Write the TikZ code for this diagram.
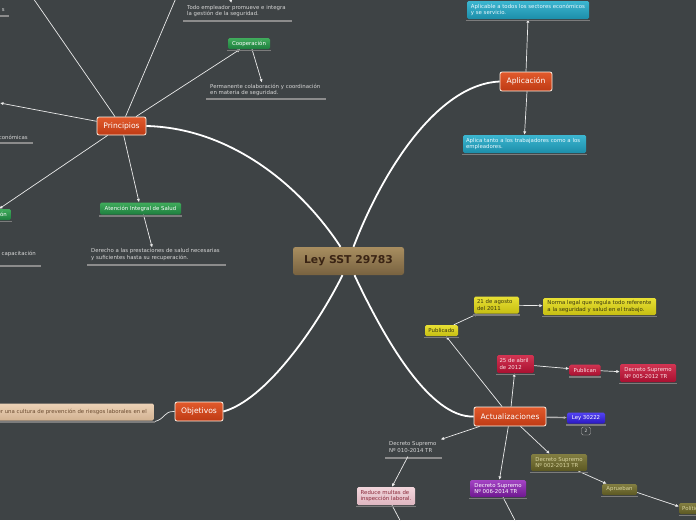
\documentclass[tikz,border=0pt]{standalone}
\usepackage{fontspec}
\setmainfont{DejaVu Sans}
\usetikzlibrary{arrows.meta,calc}
\definecolor{bg}{HTML}{3E4345}
\definecolor{notetext}{HTML}{D6D6D6}
\definecolor{ulinec}{HTML}{8C8C8C}
\definecolor{shadowc}{HTML}{7C7C7C}
\definecolor{orT}{HTML}{E25A2C}\definecolor{orB}{HTML}{BE3A14}
\definecolor{ceT}{HTML}{A88E60}\definecolor{ceB}{HTML}{786240}\definecolor{ceX}{HTML}{3A2414}
\definecolor{grT}{HTML}{40AC5C}\definecolor{grB}{HTML}{1E7E3E}
\definecolor{cyT}{HTML}{3CB6D0}\definecolor{cyB}{HTML}{1C8EAA}
\definecolor{yeT}{HTML}{E8E034}\definecolor{yeB}{HTML}{C6BE12}\definecolor{yeX}{HTML}{3A3810}
\definecolor{reT}{HTML}{D23452}\definecolor{reB}{HTML}{A81030}\definecolor{reX}{HTML}{F8E0E4}
\definecolor{blT}{HTML}{5444F2}\definecolor{blB}{HTML}{2A18C2}
\definecolor{puT}{HTML}{A444C4}\definecolor{puB}{HTML}{6E1890}
\definecolor{olT}{HTML}{827E42}\definecolor{olB}{HTML}{5C5822}\definecolor{olX}{HTML}{D8D4A0}
\definecolor{piT}{HTML}{F2D6DC}\definecolor{piB}{HTML}{DEB6C0}\definecolor{piX}{HTML}{8A2A3A}
\definecolor{beT}{HTML}{ECD2B6}\definecolor{beB}{HTML}{D2B292}\definecolor{beX}{HTML}{6A4A30}
\begin{document}
\begin{tikzpicture}[x=1pt,y=-1pt,
  smallbox/.style={rounded corners=1.5pt, inner sep=2pt, align=left,
    font=\fontsize{5.4}{6.5}\selectfont},
  topic/.style={rounded corners=2pt, draw=white!90!orange, line width=0.8pt,
    top color=orT, bottom color=orB, text=white, inner sep=2pt,
    font=\fontsize{7.6}{9}\selectfont},
  greenbox/.style={smallbox, top color=grT, bottom color=grB, text=white},
  cyanbox/.style={smallbox, top color=cyT, bottom color=cyB, text=white!92!cyan},
  yellowbox/.style={smallbox, top color=yeT, bottom color=yeB, text=yeX},
  redbox/.style={smallbox, top color=reT, bottom color=reB, text=reX},
  bluebox/.style={smallbox, top color=blT, bottom color=blB, text=white},
  purplebox/.style={smallbox, top color=puT, bottom color=puB, text=white},
  olivebox/.style={smallbox, top color=olT, bottom color=olB, text=olX},
  pinkbox/.style={smallbox, top color=piT, bottom color=piB, text=piX},
  beigebox/.style={smallbox, top color=beT, bottom color=beB, text=beX},
  note/.style={inner sep=0pt, align=left, text=notetext,
    font=\fontsize{5.4}{6.6}\selectfont},
  uline/.style={draw=ulinec, line width=1.1pt},
  shadowline/.style={draw=shadowc, line width=1.2pt},
  thick link/.style={draw=white, line width=1.8pt},
  link/.style={draw=white!92!black, line width=0.7pt},
  arrowlink/.style={link, -{Latex[length=3.4pt,width=3.2pt]}},
]
\fill[bg] (0,0) rectangle (696,520);
\useasboundingbox (0,0) rectangle (696,520);

% ---------- main topics ----------
\node[rounded corners=2.5pt, top color=ceT, bottom color=ceB, text=ceX,
  minimum width=111, minimum height=28, inner sep=0pt,
  font=\bfseries\fontsize{10.8}{12}\selectfont] (center) at (348.5,261) {Ley SST 29783};
\node[topic, minimum width=49, minimum height=18] (principios) at (121.5,126) {Principios};
\node[topic, minimum width=52, minimum height=19] (aplicacion) at (526,81.5) {Aplicación};
\node[topic, minimum width=48, minimum height=19] (objetivos) at (199,411.5) {Objetivos};
\node[topic, minimum width=72, minimum height=19] (actualiz) at (510,416.5) {Actualizaciones};

% ---------- Principios branch ----------
\node[greenbox, minimum width=42, minimum height=11, inner sep=1pt, align=center] (cooperacion) at (249,43.5) {Cooperación};
\node[greenbox, minimum width=81, minimum height=12, inner sep=1pt, align=center] (atencion) at (140.5,208.5) {Atención Integral de Salud};
\node[greenbox, minimum height=11, inner sep=1pt, inner xsep=4pt, anchor=east] (informacion) at (11,214.5) {Información};
\node[note, anchor=north west] (todo) at (187,5) {Todo empleador promueve e integra\\la gestión de la seguridad.};
\node[note, anchor=north west] (permanente) at (210,83.5) {Permanente colaboración y coordinación\\en materia de seguridad.};
\node[note, anchor=north west] (derecho) at (91,248.5) {Derecho a las prestaciones de salud necesarias\\y suficientes hasta su recuperación.};
\node[note, anchor=east] (economicas) at (28,137) {económicas};
\node[note, anchor=east] (sitem) at (5,10) {s};
\node[note, anchor=east] (capacitacion) at (36,254) {recibir capacitación};
\coordinate (offtl) at (33,-2);
\coordinate (offtop) at (176,-2);
\coordinate (offleft) at (0,103);
\coordinate (offtodo) at (228,-12);

\draw[uline] (183,21) -- (292,21);
\draw[uline] (206,99) -- (326,99);
\draw[uline] (87,265) -- (226,265);
\draw[uline] (-2,143) -- (33,143);
\draw[uline] (-2,16) -- (9,16);
\draw[uline] (-2,266) -- (41,266);

\draw[link] (principios) -- (offtl);
\draw[link] (principios) -- (offtop);
\draw[arrowlink] (principios) -- (cooperacion);
\draw[arrowlink] (principios) -- (offleft);
\draw[arrowlink] (principios) -- (informacion);
\draw[arrowlink] (principios) -- (atencion);
\draw[arrowlink, shorten >=1pt] ([xshift=3pt]cooperacion.south) -- ([xshift=-3pt]permanente.north);
\draw[arrowlink, shorten >=1pt] ([xshift=3pt]atencion.south) -- ([xshift=-3pt]derecho.north);
\draw[arrowlink] (offtodo) -- ([xshift=-5pt,yshift=2pt]todo.north);

% ---------- Aplicacion branch ----------
\node[cyanbox, minimum width=122, minimum height=18] (aplicable) at (528,10) {Aplicable a todos los sectores económicos\\y se servicio.};
\node[cyanbox, minimum width=123, minimum height=18, text width=117] (aplica) at (524.5,144) {Aplica tanto a los trabajadores como a los\\empleadores.};
\draw[arrowlink] (aplicacion.north) -- (aplicable.south);
\draw[arrowlink] ([xshift=1pt]aplicacion.south) -- (aplica.north);

% ---------- Objetivos branch ----------
\node[beigebox, minimum height=17, anchor=east, inner xsep=7pt] (cultura) at (154,412) {Promover una cultura de prevención de riesgos laborales en el};
\draw[link] (objetivos.west) .. controls (163,411) and (166,419) .. ([yshift=-1pt]cultura.south east);

% ---------- Actualizaciones branch ----------
\node[yellowbox, minimum width=33, minimum height=11, inner sep=1pt, align=center] (publicado) at (441.5,330.5) {Publicado};
\node[yellowbox, minimum width=45, minimum height=17, text width=39] (agosto) at (496.5,305) {21 de agosto\\del 2011};
\node[yellowbox, minimum width=113, minimum height=17] (norma) at (599.5,306.5) {Norma legal que regula todo referente\\a la seguridad y salud en el trabajo.};
\node[redbox, minimum width=37, minimum height=18, text width=32] (abril) at (515.5,364) {25 de abril\\de 2012};
\node[redbox, minimum width=31, minimum height=11, inner sep=1pt, align=center] (publican) at (585,370) {Publican};
\node[redbox, minimum width=56, minimum height=18] (ds005) at (648,373) {Decreto Supremo\\Nº 005-2012 TR};
\node[bluebox, minimum width=38, minimum height=11, inner sep=1pt, align=center] (ley) at (586,418) {Ley 30222};
\node[draw=gray!70, rounded corners=1.5pt, minimum width=9, minimum height=8, inner sep=0pt,
  text=gray!30, font=\fontsize{4.5}{5}\selectfont] (badge) at (586,431) {2};
\node[note, anchor=north west] (ds010) at (389,441.5) {Decreto Supremo\\Nº 010-2014 TR};
\node[pinkbox, minimum width=58, minimum height=18] (reduce) at (386,496) {Reduce multas de\\inspección laboral.};
\node[purplebox, minimum width=56, minimum height=17] (ds006) at (498,488.5) {Decreto Supremo\\Nº 006-2014 TR};
\node[olivebox, minimum width=56, minimum height=17] (ds002) at (559,462.5) {Decreto Supremo\\Nº 002-2013 TR};
\node[olivebox, minimum width=35, minimum height=11, inner sep=1pt, align=center] (aprueban) at (619.5,489.5) {Aprueban};
\node[olivebox, minimum height=11, inner sep=1pt, inner xsep=3pt, anchor=west] (politica) at (679,508.5) {Política};
\coordinate (offreduce) at (403,526);
\coordinate (offds006) at (520,530);

\draw[uline] (385,458) -- (442,458);

\draw[arrowlink] (actualiz) -- (publicado);
\draw[arrowlink] (publicado) -- (agosto);
\draw[arrowlink] (agosto) -- (norma);
\draw[arrowlink] (actualiz) -- (abril);
\draw[arrowlink] (abril) -- (publican);
\draw[arrowlink] (publican) -- (ds005);
\draw[-{Latex[length=3pt,width=3pt]}, draw=gray!60, line width=1.4pt] (actualiz) -- (ley);
\draw[arrowlink] ([xshift=6pt]actualiz.south west) -- ([shift={(4pt,2pt)}]ds010.north east);
\draw[arrowlink] ([xshift=-5pt,yshift=-4pt]ds010.south) -- ([xshift=6pt]reduce.north);
\draw[link] ([xshift=6pt]reduce.south) -- (offreduce);
\draw[arrowlink] (actualiz) -- (ds006);
\draw[link] ([xshift=5pt]ds006.south) -- (offds006);
\draw[arrowlink] (actualiz) -- (ds002);
\draw[arrowlink] (ds002) -- (aprueban);
\draw[arrowlink] ([yshift=-3pt]aprueban.east) -- ([yshift=2pt]politica.west);

% ---------- shadow strips ----------
\foreach \n in {cooperacion,atencion,informacion,aplicable,aplica,cultura,publicado,agosto,norma,abril,publican,ds005,ley,reduce,ds006,ds002,aprueban,politica}
  \draw[shadowline] ([xshift=-0.5pt,yshift=-1.3pt]\n.south west) -- ([xshift=0.5pt,yshift=-1.3pt]\n.south east);

% ---------- thick links from center ----------
\draw[thick link] (principios.east) .. controls (230,128) and (300,185) .. ([xshift=-8pt]center.north);
\draw[thick link] ([xshift=5pt]center.north) .. controls (385,165) and (440,84) .. (aplicacion.west);
\draw[thick link] ([xshift=-6pt]center.south) .. controls (315,330) and (265,400) .. (objetivos.east);
\draw[thick link] ([xshift=6pt]center.south) .. controls (385,340) and (430,418) .. (actualiz.west);
\end{tikzpicture}
\end{document}
